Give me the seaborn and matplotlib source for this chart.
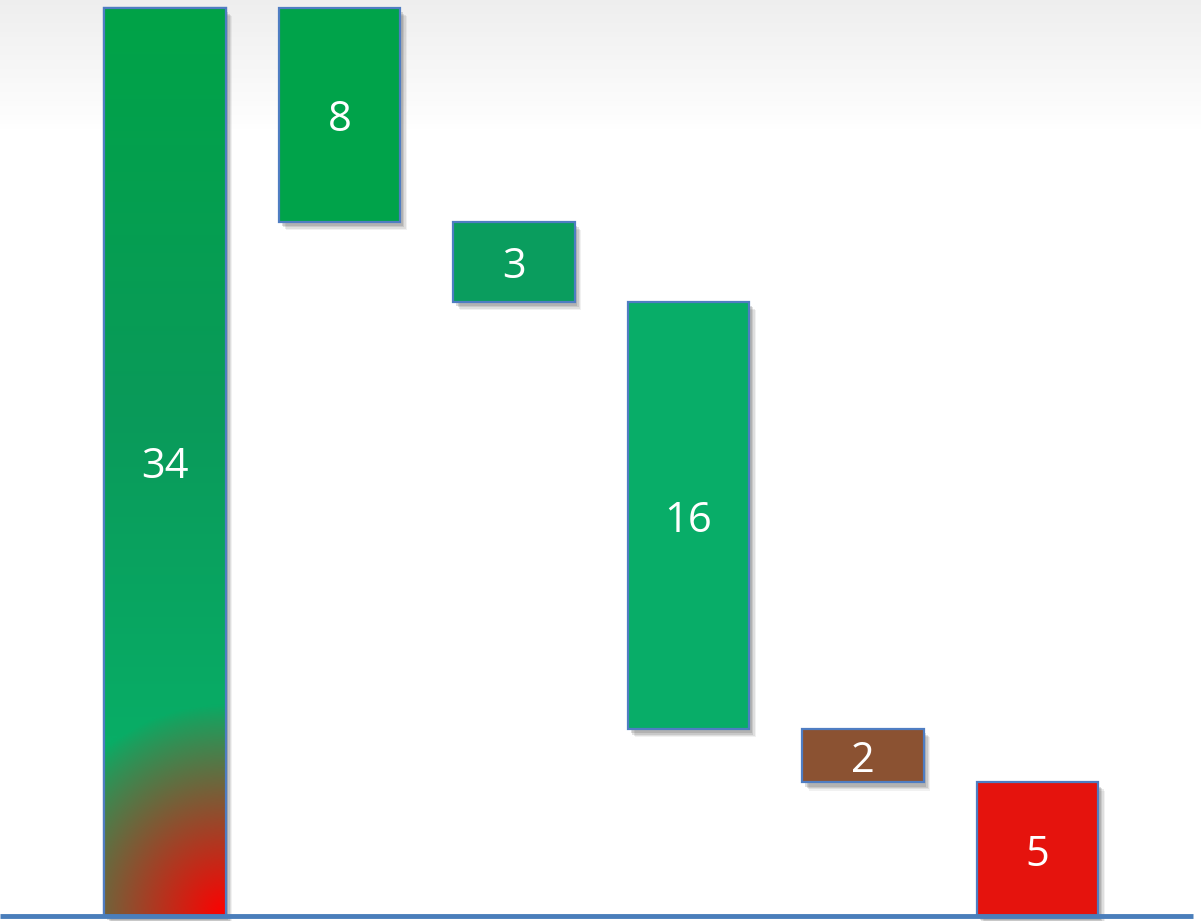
import numpy as np
import pandas as pd
import matplotlib
matplotlib.use("Agg")
import matplotlib.pyplot as plt
import matplotlib.patheffects as pe
import seaborn as sns

# ---- data ----
categories = ["A", "B", "C", "D", "E", "F"]
values = [34, 8, 3, 16, 2, 5]
bottoms = [0, 26, 23, 7, 5, 0]
labels = ["34", "8", "3", "16", "2", "5"]
bar_colors = ["#03A24C", "#00A34A", "#0A9D5E", "#08AD68", "#8B5232", "#E5130D"]

sns.set_theme(style="white")
plt.rcParams["font.family"] = ["Open Sans", "DejaVu Sans"]

W, H, DPI = 1201, 921, 100
fig = plt.figure(figsize=(W / DPI, H / DPI), dpi=DPI)
ax = fig.add_axes([0, 0, 1, 1])

px_per_cat = 174.5
c0 = 165.0
x0 = -c0 / px_per_cat
x1 = (W - c0) / px_per_cat
px_per_unit = 26.7
y0 = -5 / px_per_unit
y1 = 34 + 8 / px_per_unit

# background: light grey at top fading to white
bg = np.linspace(0, 1, 200)[:, None]
bgcol = np.clip(bg / 0.14, 0, 1)
bgimg = np.ones((200, 2, 3))
top = np.array([0.935, 0.935, 0.935])
for c in range(3):
    bgimg[:, :, c] = (top[c] + (1 - top[c]) * bgcol)
ax.imshow(bgimg, extent=[x0, x1, y0, y1], aspect="auto", zorder=0, origin="upper")

df = pd.DataFrame({"cat": categories, "val": values, "bottom": bottoms})
sns.barplot(data=df, x="cat", y="val", bottom=df["bottom"].values, ax=ax,
            width=0.694, order=categories, color="gray", saturation=1,
            zorder=3)
ax.set_xlim(x0, x1)
ax.set_ylim(y0, y1)

shadow = [pe.SimplePatchShadow(offset=(5, -6), shadow_rgbFace=(0.55, 0.55, 0.55), alpha=0.12),
          pe.SimplePatchShadow(offset=(4, -5), shadow_rgbFace=(0.5, 0.5, 0.5), alpha=0.16),
          pe.SimplePatchShadow(offset=(3, -4), shadow_rgbFace=(0.45, 0.45, 0.45), alpha=0.2),
          pe.SimplePatchShadow(offset=(2, -3), shadow_rgbFace=(0.4, 0.4, 0.4), alpha=0.22),
          pe.Normal()]

patches = list(ax.patches)
for p, col in zip(patches, bar_colors):
    p.set_facecolor(col)
    p.set_edgecolor("#4F7DC2")
    p.set_linewidth(1.6)
    p.set_path_effects(shadow)

# gradient fill for the first bar
p0 = patches[0]
bx, by = p0.get_x(), p0.get_y()
bw, bh = p0.get_width(), p0.get_height()
ny, nx = 400, 60
yy = np.linspace(1, 0, ny)[:, None] * np.ones((1, nx))  # 1 at top, 0 at bottom
xx = np.ones((ny, 1)) * np.linspace(0, 1, nx)[None, :]
g_top = np.array([0x00, 0xA3, 0x47]) / 255
g_mid = np.array([0x0A, 0x9A, 0x5A]) / 255
g_low = np.array([0x08, 0xAD, 0x66]) / 255
red = np.array([0xFF, 0x00, 0x00]) / 255
img = np.zeros((ny, nx, 3))
for c in range(3):
    t = yy
    upper = g_mid[c] + (g_top[c] - g_mid[c]) * np.clip((t - 0.55) / 0.45, 0, 1)
    lower = g_low[c] + (g_mid[c] - g_low[c]) * np.clip((t - 0.2) / 0.35, 0, 1)
    img[:, :, c] = np.where(t > 0.55, upper, lower)
dxp = (1 - xx) * bw * px_per_cat
dyp = yy * bh * px_per_unit
r = np.sqrt(dxp ** 2 + (dyp * 0.95) ** 2)
w = np.clip(1 - r / 200, 0, 1) ** 0.9
for c in range(3):
    img[:, :, c] = img[:, :, c] * (1 - w) + red[c] * w
im = ax.imshow(img, extent=[bx, bx + bw, by, by + bh], aspect="auto",
               zorder=3.5, origin="upper")
im.set_clip_path(p0)
p0.set_facecolor("white")
edge0 = plt.Rectangle((bx, by), bw, bh, fill=False, edgecolor="#4F7DC2",
                      linewidth=1.6, zorder=3.6)
ax.add_patch(edge0)

# value labels
for i, (v, b, lab) in enumerate(zip(values, bottoms, labels)):
    ax.annotate(lab, (i, b + v / 2), xytext=(0, -3.8), textcoords="offset points",
                ha="center", va="center", color="white", fontsize=30, zorder=5)

# baseline
ax.plot([x0, (1193 - c0) / px_per_cat], [0, 0], color="#4A7EBB",
        linewidth=3.5, zorder=6, solid_capstyle="butt")

ax.set_xlim(x0, x1)
ax.set_ylim(y0, y1)
ax.axis("off")
fig.savefig("out.png", dpi=DPI)
